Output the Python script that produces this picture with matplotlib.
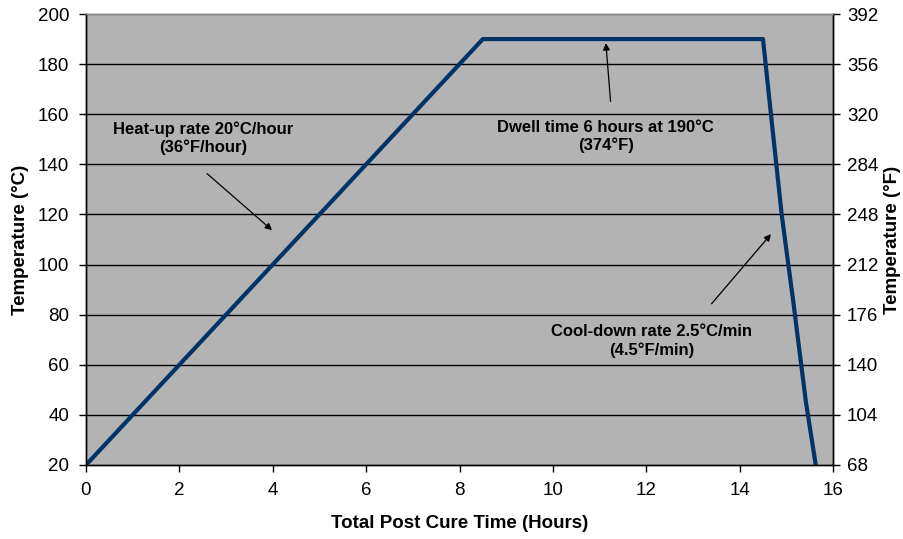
import numpy as np
import matplotlib as mpl
from matplotlib import pyplot as plt

mpl.rcParams.update({
    'font.family': 'Liberation Sans',
    'font.size': 13.5,
    'axes.linewidth': 1,
})

# cure profile (hours, degC)
time_h = [0.0, 8.5, 14.5, 14.67, 14.9, 15.15, 15.42, 15.63]
temp_c = [20, 190, 190, 160, 120, 85, 45, 20]

c_ticks = np.arange(20, 201, 20)
f_ticks = [68, 104, 140, 176, 212, 248, 284, 320, 356, 392]
x_ticks = np.arange(0, 17, 2)

fig = plt.figure(figsize=(9.04, 5.39), dpi=100)
ax = fig.add_axes([0.0951, 0.1373, 0.8264, 0.8367])
ax.set_facecolor('#b3b3b3')

ax.plot(time_h, temp_c, color='#003366', linewidth=3, solid_joinstyle='round', zorder=3)

ax.set_xlim(0, 16)
ax.set_ylim(20, 200)
ax.set_xticks(x_ticks)
ax.set_yticks(c_ticks)
for y in c_ticks[1:-1]:
    ax.axhline(y, color='black', linewidth=1, zorder=1)

ax.spines['top'].set_color('#808080')
ax.tick_params(axis='y', direction='out', length=5, width=1, pad=7, labelsize=13.5)
ax.tick_params(axis='x', direction='out', length=5, width=1, pad=7, labelsize=13.5)

ax.set_xlabel('Total Post Cure Time (Hours)', fontweight='bold', fontsize=13.5, labelpad=12)
ax.set_ylabel('Temperature (°C)', fontweight='bold', fontsize=13.5, labelpad=6)

ax2 = ax.twinx()
ax2.set_ylim(68, 392)
ax2.set_yticks(f_ticks)
ax2.tick_params(direction='out', length=5, width=1, pad=5, labelsize=13.5)
ax2.set_ylabel('Temperature (°F)', fontweight='bold', fontsize=13.5, labelpad=4)
ax2.spines['top'].set_color('#808080')

arrow = dict(arrowstyle='-|>', color='black', lw=0.9, mutation_scale=10)
ax.annotate('', xy=(4.03, 113), xytext=(2.55, 137), arrowprops=arrow, zorder=4)
ax.annotate('', xy=(11.13, 189.5), xytext=(11.24, 164), arrowprops=arrow, zorder=4)
ax.annotate('', xy=(14.71, 113), xytext=(13.36, 83.5), arrowprops=arrow, zorder=4)

ax.text(2.5, 150.5, 'Heat-up rate 20°C/hour\n(36°F/hour)', ha='center', va='center',
        fontweight='bold', fontsize=12, linespacing=1.2)
ax.text(11.13, 151, 'Dwell time 6 hours at 190°C\n(374°F)', ha='center', va='center',
        fontweight='bold', fontsize=12, linespacing=1.2)
ax.text(12.12, 69.5, 'Cool-down rate 2.5°C/min\n(4.5°F/min)', ha='center', va='center',
        fontweight='bold', fontsize=12, linespacing=1.2)

fig.savefig('out.png', dpi=100)
